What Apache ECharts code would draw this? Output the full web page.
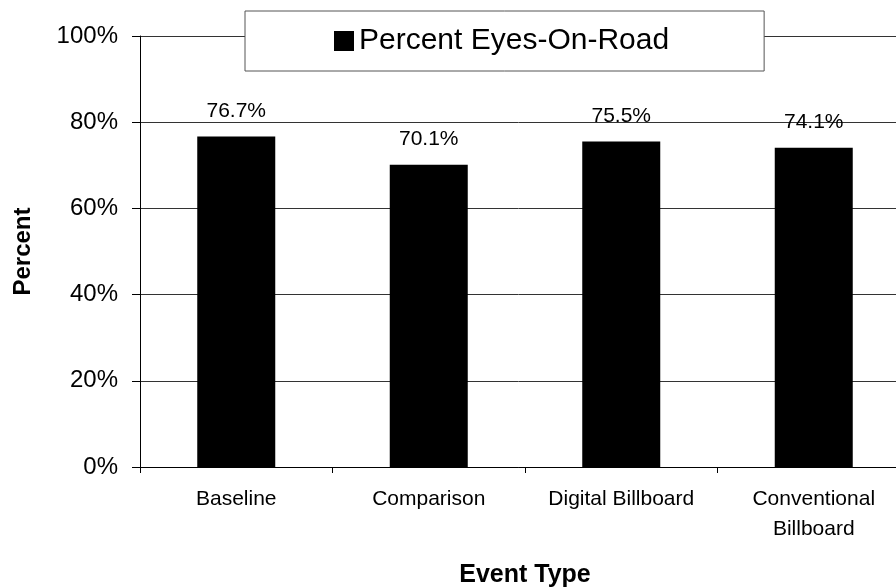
<!DOCTYPE html>
<html>
<head>
<meta charset="utf-8">
<script src="https://cdn.jsdelivr.net/npm/echarts@6/dist/echarts.min.js"></script>
<style>html,body{margin:0;padding:0;background:#fff}#c{width:896px;height:588px}</style>
</head>
<body>
<div id="c"></div>
<script>
var categories = ['Baseline', 'Comparison', 'Digital Billboard', 'Conventional\nBillboard'];
var seriesName = 'Percent Eyes-On-Road';
var values = [76.7, 70.1, 75.5, 74.1];
var yTicks = [0, 20, 40, 60, 80, 100];

var chart = echarts.init(document.getElementById('c'), null, {renderer: 'canvas'});
var F = 'Arial, "Liberation Sans", sans-serif';
chart.setOption({
  animation: false,
  backgroundColor: '#fff',
  textStyle: {fontFamily: F, color: '#000'},
  grid: {left: 140, top: 36, width: 770, height: 431, containLabel: false, outerBoundsMode: 'none'},
  legend: {
    data: [seriesName],
    left: 245, top: 11,
    icon: 'rect', itemWidth: 20, itemHeight: 20,
    padding: [15, 95, 15, 89],
    backgroundColor: '#fff',
    borderColor: '#555', borderWidth: 1,
    textStyle: {fontSize: 30, fontFamily: F, color: '#000'}
  },
  xAxis: {
    type: 'category',
    data: categories,
    name: 'Event Type',
    nameLocation: 'middle',
    nameGap: 96,
    nameTextStyle: {fontSize: 25, fontWeight: 'bold', fontFamily: F, color: '#000'},
    axisLine: {lineStyle: {color: '#000', width: 1}},
    axisTick: {show: true, length: 6, lineStyle: {color: '#000'}},
    axisLabel: {fontSize: 21, lineHeight: 30, margin: 17, color: '#000', fontFamily: F, interval: 0}
  },
  yAxis: {
    type: 'value',
    min: yTicks[0], max: yTicks[yTicks.length - 1], interval: 20,
    name: 'Percent',
    nameLocation: 'middle',
    nameGap: 105,
    nameRotate: 90,
    nameTextStyle: {fontSize: 24, fontWeight: 'bold', fontFamily: F, color: '#000'},
    axisLine: {show: true, lineStyle: {color: '#000', width: 1}},
    axisTick: {show: true, length: 8, lineStyle: {color: '#000'}},
    axisLabel: {formatter: '{value}%', fontSize: 24, margin: 22, color: '#000', fontFamily: F},
    splitLine: {show: true, lineStyle: {color: '#333', width: 1}}
  },
  series: [{
    name: seriesName,
    type: 'bar',
    data: values,
    barWidth: 78,
    itemStyle: {color: '#000'},
    label: {
      show: true, position: 'top', distance: 15,
      formatter: function (p) { return p.value.toFixed(1) + '%'; },
      fontSize: 21, color: '#000', fontFamily: F
    }
  }]
});
</script>
</body>
</html>
